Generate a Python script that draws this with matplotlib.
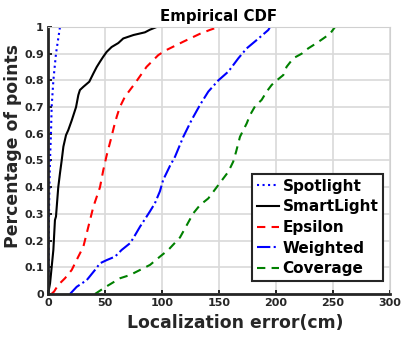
import matplotlib
matplotlib.use('Agg')
import matplotlib.pyplot as plt

# empirical CDF curves, x in cm, y = fraction of points
spot_x = [0, 0.3, 0.6, 0.9, 1.2, 1.75, 2.6, 3.2, 4.7, 7, 10.5]
spot_y = [0, 0.02, 0.1, 0.3, 0.4, 0.5, 0.6, 0.7, 0.8, 0.9, 1.0]

smart_x = [0, 0.3, 1.8, 3.2, 4.7, 6.1, 7, 9, 10.5, 12, 13.5, 15.8, 17.8, 20.8, 24.6, 26.6,
           28, 31, 36.2, 39.8, 42.7, 45.6, 48.5, 51.5, 55.8, 61.7, 66, 75, 85, 89.5, 95.3]
smart_y = [0, 0.005, 0.04, 0.1, 0.165, 0.277, 0.29, 0.4, 0.452, 0.5, 0.552, 0.595, 0.614, 0.65, 0.7, 0.745,
           0.764, 0.776, 0.795, 0.826, 0.85, 0.87, 0.889, 0.907, 0.925, 0.94, 0.957, 0.97, 0.98, 0.99, 1.0]

eps_x = [3, 5.3, 9, 14.9, 20.8, 26.6, 31, 35.4, 39.8, 45.6, 48.5, 51.5, 55, 57.9, 60.3, 63,
         67.5, 76.3, 86.5, 96.8, 104, 118.7, 133, 142, 149.4]
eps_y = [0, 0.009, 0.034, 0.059, 0.09, 0.14, 0.177, 0.252, 0.327, 0.4, 0.464, 0.52, 0.577, 0.627, 0.664, 0.7,
         0.739, 0.789, 0.851, 0.895, 0.914, 0.945, 0.974, 0.989, 1.0]

wei_x = [19.3, 25.2, 34, 41.2, 45.6, 51.5, 58.8, 64.6, 71.9, 74.8, 80.7, 86.5, 89.5, 93.8, 98.2, 101,
         107, 111.4, 118.7, 126, 133.3, 140.6, 149.4, 158.2, 167, 174.3, 183, 193.3, 194.7]
wei_y = [0, 0.027, 0.052, 0.09, 0.115, 0.127, 0.14, 0.165, 0.19, 0.209, 0.252, 0.29, 0.31, 0.34, 0.385, 0.427,
         0.48, 0.514, 0.589, 0.652, 0.708, 0.758, 0.8, 0.833, 0.883, 0.92, 0.951, 0.989, 1.0]

cov_x = [41.2, 50, 63.2, 71.9, 80.7, 89.5, 98.2, 105.5, 115.8, 120.2, 127.4, 133.3, 140.6, 145, 149.4,
         158.2, 162.5, 165, 168.4, 174.3, 177.2, 181.6, 187.4, 191.8, 196.2, 200.6, 206.4, 209.3, 215.2,
         222.5, 228.3, 235.7, 241.5, 247.4, 251.8]
cov_y = [0, 0.025, 0.059, 0.071, 0.09, 0.109, 0.14, 0.165, 0.212, 0.246, 0.302, 0.333, 0.358, 0.383, 0.408,
         0.458, 0.496, 0.533, 0.589, 0.639, 0.67, 0.703, 0.727, 0.758, 0.783, 0.8, 0.82, 0.851, 0.883,
         0.9, 0.92, 0.94, 0.957, 0.975, 1.0]

xticks = [0, 50, 100, 150, 200, 250, 300]
yticks = [0, 0.1, 0.2, 0.3, 0.4, 0.5, 0.6, 0.7, 0.8, 0.9, 1]
ytick_labels = ['0', '0.1', '0.2', '0.3', '0.4', '0.5', '0.6', '0.7', '0.8', '0.9', '1']

plt.rcParams['font.family'] = ['DejaVu Sans']
plt.rcParams['font.weight'] = 'bold'

fig = plt.figure(figsize=(4.01, 3.37), dpi=100)
ax = fig.add_axes([0.1197, 0.1276, 0.8529, 0.7923])

ax.plot(spot_x, spot_y, color='blue', linestyle=':', linewidth=1.5, label='Spotlight')
ax.plot(smart_x, smart_y, color='black', linestyle='-', linewidth=1.5, label='SmartLight')
ax.plot(eps_x, eps_y, color='red', linestyle=(0, (4, 3)), linewidth=1.5, label='Epsilon')
ax.plot(wei_x, wei_y, color='blue', linestyle='-.', linewidth=1.5, label='Weighted')
ax.plot(cov_x, cov_y, color='green', linestyle=(0, (4, 3)), linewidth=1.5, label='Coverage')

ax.set_xlim(0, 300)
ax.set_ylim(0, 1)
ax.set_xticks(xticks)
ax.set_yticks(yticks)
ax.set_yticklabels(ytick_labels)
ax.tick_params(direction='in', length=3, width=1.2, labelsize=8, colors='black', pad=3)
for lbl in ax.get_xticklabels() + ax.get_yticklabels():
    lbl.set_fontweight('bold')
    lbl.set_color('#262626')
ax.grid(True, color='#d9d9d9', linewidth=1.2)
ax.set_axisbelow(True)

ax.spines['left'].set_linewidth(2)
ax.spines['bottom'].set_linewidth(2)
ax.spines['left'].set_color('#262626')
ax.spines['bottom'].set_color('#262626')
ax.spines['top'].set_color('#d0d0d0')
ax.spines['right'].set_color('#d0d0d0')

ax.set_title('Empirical CDF', fontsize=10.8, fontweight='bold', pad=4)
ax.set_xlabel('Localization error(cm)', fontsize=12.4, fontweight='bold', color='#262626')
ax.set_ylabel('Percentage of points', fontsize=12.4, fontweight='bold', color='#262626')
ax.xaxis.set_label_coords(0.547, -0.075)
ax.yaxis.set_label_coords(-0.076, 0.554)

leg = ax.legend(loc='lower right', fontsize=11, handlelength=1.5, handletextpad=0.2,
                labelspacing=0.37, borderpad=0.3, fancybox=False, framealpha=1,
                bbox_to_anchor=(0.9795, 0.0487), borderaxespad=0)
leg.get_frame().set_edgecolor('#262626')
leg.get_frame().set_linewidth(1.5)
for t in leg.get_texts():
    t.set_fontweight('bold')

fig.savefig('out.png', dpi=100)
